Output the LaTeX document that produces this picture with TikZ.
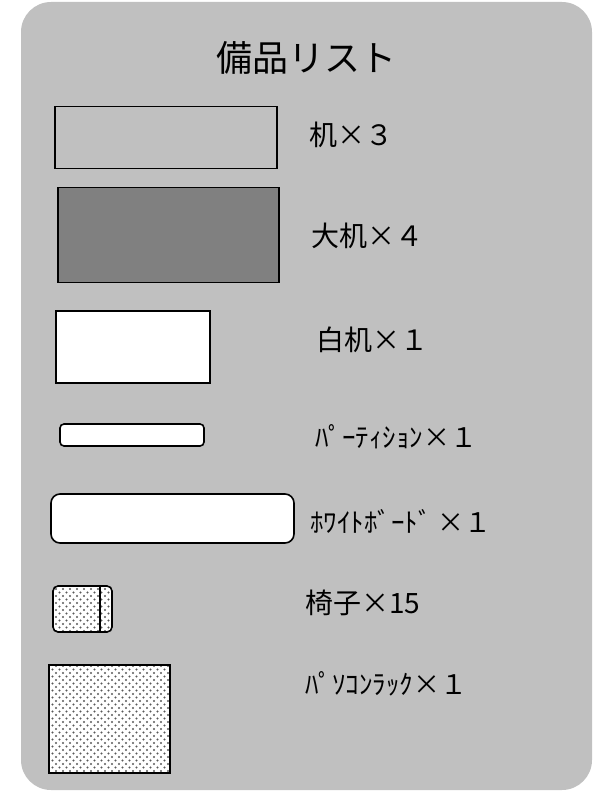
\documentclass[tikz,border=0pt]{standalone}
\usepackage{fontspec}
\setmainfont{Noto Sans CJK JP}
\usepackage{tikz}
\usetikzlibrary{positioning}
\usetikzlibrary{calc}
\usetikzlibrary{patterns}
\definecolor{panelgray}{HTML}{C0C0C0}
\definecolor{darkdesk}{HTML}{808080}
\pgfdeclarepatternformonly{sparse dots}{\pgfpoint{-1.5pt}{-1.5pt}}{\pgfpoint{7pt}{7pt}}{\pgfpoint{7pt}{7pt}}{
    \pgfpathcircle{\pgfpoint{0pt}{0pt}}{1.1pt}
    \pgfpathcircle{\pgfpoint{3.5pt}{3.5pt}}{1.1pt}
    \pgfusepath{fill}}

\begin{document}
\begin{tikzpicture}[x=1pt, y=-1pt,
        item/.style={draw=black, line width=1.6pt, inner sep=0pt},
        dotted box/.style={item, preaction={fill=white}, pattern=sparse dots, pattern color=black!65},
        itemlabel/.style={anchor=west, inner sep=0pt, font=\fontsize{28}{31}\selectfont},
        kanalabel/.style={itemlabel, font=\fontsize{27}{30}\selectfont}]
        \useasboundingbox (0,0) rectangle (594,792);
        \fill [panelgray, rounded corners=30pt] (21,2) rectangle (592,790);

        \node [font=\fontsize{36}{40}\selectfont] (title) at (306,58) {備品リスト};

        % desks
        \node [item, fill=panelgray, minimum width=222, minimum height=62] (desk) at (166,137.5) {};
        \node [item, fill=darkdesk, minimum width=221, minimum height=95] (bigdesk) at (168.5,235) {};
        \node [item, fill=white, minimum width=154, minimum height=72] (whitedesk) at (133,347) {};

        % boards
        \node [item, fill=white, rounded corners=4pt, minimum width=144, minimum height=22] (partition) at (132,435) {};
        \node [item, fill=white, rounded corners=9pt, minimum width=243, minimum height=49] (board) at (172.5,518.5) {};

        % chair and rack
        \node [dotted box, rounded corners=5pt, minimum width=59, minimum height=46] (chair) at (82.5,609) {};
        \draw [line width=1.6pt] ($(chair.north east)+(-13,0)$) -- ($(chair.south east)+(-13,0)$);
        \node [dotted box, minimum width=121, minimum height=108] (rack) at (109.5,719) {};

        \node [itemlabel] (desklbl) at (309,135) {机×３};
        \node [itemlabel] (bigdesklbl) at (311,236) {大机×４};
        \node [itemlabel] (whitedesklbl) at (316,340) {白机×１};
        \node [kanalabel] (partitionlbl) at (315,437) {ﾊﾟｰﾃｨｼｮﾝ×１};
        \node [kanalabel] (boardlbl) at (310,521) {ﾎﾜｲﾄﾎﾞｰﾄﾞ ×１};
        \node [itemlabel] (chairlbl) at (305,603) {椅子×15};
        \node [kanalabel] (racklbl) at (305,684) {ﾊﾟｿｺﾝﾗｯｸ×１};
\end{tikzpicture}
\end{document}
